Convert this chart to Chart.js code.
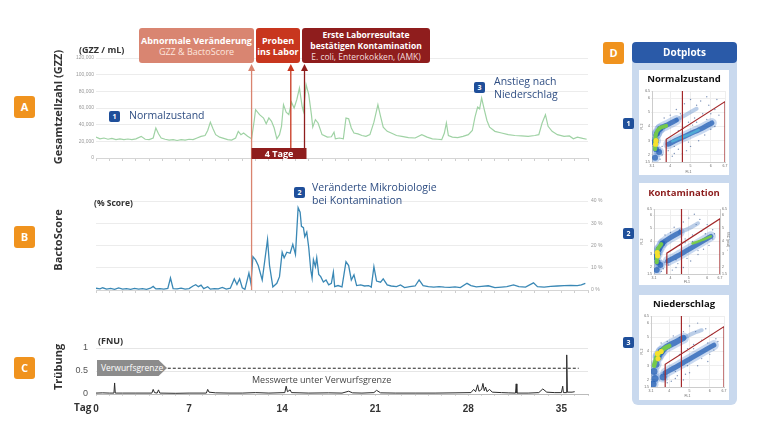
<!DOCTYPE html>
<html>
<head>
<meta charset="utf-8">
<script src="https://cdn.jsdelivr.net/npm/chart.js@4.4.1/dist/chart.umd.min.js"></script>
<style>
  body { margin: 0; width: 760px; height: 440px; position: relative; overflow: hidden; background: #fff; font-family: 'Open Sans', 'DejaVu Sans', sans-serif; }
  canvas { position: absolute; }
  .abs { position: absolute; white-space: nowrap; }
  .badge { position: absolute; background: #f0931e; color: #fff; font-weight: bold; font-size: 11px; width: 21px; height: 22px; line-height: 22px; text-align: center; border-radius: 3px; }
  .num { position: absolute; background: #1f4f9a; color: #fff; font-weight: bold; font-size: 7px; width: 11px; height: 11px; line-height: 11px; text-align: center; border-radius: 2px; }
  .note { position: absolute; color: #2e4d82; font-size: 10.5px; line-height: 13px; white-space: nowrap; }
  .vlabel { position: absolute; transform: translate(-50%, -50%) rotate(-90deg); font-weight: bold; font-size: 11px; color: #333; white-space: nowrap; }
  .box { position: absolute; color: #fff; text-align: center; border-radius: 3px; font-size: 9px; line-height: 11px; display: flex; flex-direction: column; justify-content: center; }
  .unit { position: absolute; font-weight: bold; font-size: 9px; color: #333; white-space: nowrap; }
  .card { position: absolute; background: #fff; left: 639px; width: 90px; }
  .ctitle { position: absolute; left: 639px; width: 90px; text-align: center; font-weight: bold; font-size: 9.5px; }
</style>
</head>
<body>
<canvas id="chartA" width="620" height="140" style="left:0;top:40px"></canvas>
<canvas id="chartB" width="620" height="120" style="left:0;top:180px"></canvas>
<canvas id="chartC" width="620" height="95" style="left:0;top:330px"></canvas>

<!-- left labels -->
<div class="badge" style="left:14px;top:96px">A</div>
<div class="badge" style="left:14px;top:226px">B</div>
<div class="badge" style="left:14px;top:357px">C</div>
<div class="vlabel" style="left:57px;top:107px">Gesamtzellzahl (GZZ)</div>
<div class="vlabel" style="left:57px;top:240px">BactoScore</div>
<div class="vlabel" style="left:57px;top:367px">Trübung</div>

<div class="unit" style="left:79px;top:43px">(GZZ / mL)</div>
<div class="unit" style="left:94px;top:197px;font-size:8.5px">(% Score)</div>
<div class="unit" style="left:98px;top:334px">(FNU)</div>
<div class="unit" style="left:74px;top:400px;font-size:10px">Tag</div>

<!-- top boxes -->
<div class="box" style="left:139px;top:28px;width:115px;height:35px;background:#d98571"><b>Abnormale Veränderung</b><span style="color:#fde6df">GZZ &amp; BactoScore</span></div>
<div class="box" style="left:256px;top:28px;width:44px;height:35px;background:#c8361e"><b>Proben<br>ins Labor</b></div>
<div class="box" style="left:302px;top:28px;width:128px;height:35px;background:#8f1d1d;font-size:8.5px;line-height:11px"><b>Erste Laborresultate<br>bestätigen Kontamination</b><span style="color:#f3dede">E. coli, Enterokokken, (AMK)</span></div>

<!-- notes -->
<div class="num" style="left:109px;top:111px">1</div>
<div class="note" style="left:129px;top:109px">Normalzustand</div>
<div class="num" style="left:474px;top:82px">3</div>
<div class="note" style="left:494px;top:75px">Anstieg nach<br>Niederschlag</div>
<div class="num" style="left:294px;top:187px">2</div>
<div class="note" style="left:312px;top:181px">Veränderte Mikrobiologie<br>bei Kontamination</div>

<!-- turbidity notes -->
<div class="abs" style="left:97px;top:360px;width:70px;height:16px;background:#8c8c8c;clip-path:polygon(0 0,88% 0,100% 50%,88% 100%,0 100%);color:#fff;font-size:8.5px;line-height:16px;padding-left:4px;box-sizing:border-box">Verwurfsgrenze</div>
<div class="abs" style="left:252px;top:373px;font-size:9px;color:#444">Messwerte unter Verwurfsgrenze</div>

<!-- D panel -->
<div class="badge" style="left:603px;top:42px">D</div>
<div class="abs" style="left:632px;top:55px;width:105px;height:350px;background:#c9d9ee;border-radius:6px"></div>
<div class="abs" style="left:632px;top:42px;width:105px;height:21px;background:#2a5aa8;border-radius:4px;color:#fff;font-weight:bold;font-size:10px;line-height:21px;text-align:center">Dotplots</div>
<div class="card" style="top:70px;height:105px"></div>
<div class="card" style="top:183px;height:102px"></div>
<div class="card" style="top:295px;height:105px"></div>
<div class="ctitle" style="top:72px;color:#111">Normalzustand</div>
<div class="ctitle" style="top:186px;color:#8b1a1a">Kontamination</div>
<div class="ctitle" style="top:297px;color:#111">Niederschlag</div>
<div class="num" style="left:623px;top:118px">1</div>
<div class="num" style="left:623px;top:228px">2</div>
<div class="num" style="left:623px;top:337px">3</div>
<canvas id="dot1" width="90" height="88" style="left:640px;top:86px"></canvas>
<canvas id="dot2" width="90" height="81" style="left:640px;top:203px"></canvas>
<canvas id="dot3" width="90" height="88" style="left:640px;top:310px"></canvas>

<script>
// A: Gesamtzellzahl (days, cells per mL)
const gzzDays = [0, 0.3, 0.6, 0.9, 1.2, 1.5, 1.8, 2.1, 2.4, 2.7, 3.0, 3.4, 3.7, 4.0, 4.3, 4.5, 4.7, 4.9, 5.2, 5.5,
  5.8, 6.1, 6.4, 6.7, 7.0, 7.3, 7.6, 7.9, 8.2, 8.4, 8.6, 8.8, 9.0, 9.3, 9.6, 9.9, 10.2, 10.5, 10.7, 10.9,
  11.1, 11.4, 11.7, 11.9, 12.0, 12.3, 12.6, 12.8, 13.0, 13.2, 13.4, 13.6, 13.8, 13.95, 14.1, 14.3, 14.5, 14.7, 14.9, 15.1,
  15.3, 15.5, 15.6, 15.8, 16.0, 16.2, 16.3, 16.5, 16.7, 17.0, 17.4, 17.7, 17.9, 18.0, 18.3, 18.6, 18.8, 19.0, 19.2, 19.4,
  19.7, 20.0, 20.3, 20.6, 20.9, 21.2, 21.4, 21.6, 21.9, 22.2, 22.6, 23.0, 23.5, 24.0, 24.5, 24.9, 25.3, 25.7, 26.0, 26.2,
  26.35, 26.5, 26.8, 27.2, 27.6, 28.0, 28.3, 28.5, 28.7, 28.85, 29.0, 29.2, 29.4, 29.6, 30.0, 30.5, 31.0, 31.5, 32.0, 32.5,
  33.0, 33.3, 33.55, 33.8, 34.0, 34.3, 34.7, 35.2, 35.6, 35.9, 36.2, 36.6, 36.9];
const gzzValues = [25000, 23000, 24000, 22500, 23500, 22000, 23000, 22000, 22800, 22000, 23000, 26000, 22500, 22000, 24000, 36000, 29000, 24000, 22500, 21500,
  22000, 21000, 22000, 21500, 22500, 22000, 24000, 26000, 27000, 33000, 43000, 35000, 28000, 25000, 23500, 22000, 21500, 24000, 32000, 28000,
  30000, 26000, 23000, 45000, 58000, 52000, 48000, 41000, 48000, 44000, 36000, 23000, 28000, 38000, 64000, 55000, 52000, 67000, 60000, 70000,
  84000, 62000, 56000, 88000, 76000, 52000, 37000, 46000, 42000, 28000, 25000, 25500, 31000, 23000, 24000, 23000, 48000, 47000, 36000, 30000,
  29000, 27000, 26000, 28000, 43000, 64000, 50000, 37000, 32000, 30000, 27000, 26000, 24500, 24000, 28000, 25000, 23000, 22500, 22000, 30000,
  42000, 27000, 25000, 24500, 26000, 28000, 33000, 49000, 61000, 59000, 72000, 58000, 45000, 37000, 32000, 30000, 28000, 27000, 26500, 26000,
  27000, 28000, 42000, 52000, 38000, 32000, 28000, 26000, 26500, 23000, 25000, 23500, 22500];

// B: BactoScore (days, %)
const scoreDays = [0, 0.3, 0.5, 0.8, 1.1, 1.4, 1.7, 2.0, 2.3, 2.6, 2.9, 3.2, 3.5, 3.8, 4.1, 4.3, 4.5, 4.8, 5.1, 5.4,
  5.6, 5.8, 6.1, 6.4, 6.7, 7.0, 7.3, 7.5, 7.7, 7.9, 8.1, 8.4, 8.6, 8.9, 9.2, 9.5, 9.8, 10.1, 10.4, 10.6,
  10.8, 11.0, 11.2, 11.5, 11.65, 11.8, 12.0, 12.2, 12.5, 12.7, 12.9, 13.05, 13.3, 13.6, 13.8, 14.0, 14.15, 14.35, 14.6, 14.8,
  15.0, 15.2, 15.35, 15.45, 15.6, 15.7, 15.85, 16.0, 16.15, 16.25, 16.35, 16.5, 16.6, 16.75, 16.9, 17.1, 17.3, 17.5, 17.7, 17.85,
  17.95, 18.2, 18.5, 18.8, 19.0, 19.2, 19.4, 19.6, 19.9, 20.2, 20.5, 20.7, 20.9, 21.1, 21.4, 21.6, 21.9, 22.2, 22.6, 22.9,
  23.2, 23.6, 24.0, 24.3, 24.6, 25.0, 25.4, 25.8, 26.2, 26.6, 27.0, 27.4, 27.9, 28.2, 28.6, 29.0, 29.5, 30.0, 30.5, 30.9,
  31.4, 31.8, 32.3, 32.9, 33.2, 33.7, 34.2, 34.7, 35.2, 35.7, 36.2, 36.5, 36.8];
const scoreValues = [0.8, 0.5, 1.0, 0.4, 0.7, 0.3, 0.9, 0.4, 0.6, 0.3, 0.7, 0.4, 0.6, 0.3, 0.8, 1.6, 0.5, 0.6, 0.4, 0.7,
  5.4, 0.6, 0.5, 0.8, 0.4, 0.6, 1.8, 2.4, 1.5, 2.2, 0.6, 1.5, 0.4, 0.6, 0.5, 1.2, 0.4, 0.8, 5.0, 2.5,
  5.0, 1.0, 0.3, 7.6, 3.0, 15.0, 13.5, 11.0, 4.5, 13.6, 22.7, 11.0, 1.4, 3.0, 6.0, 17.0, 14.5, 17.0, 16.5, 20.5,
  16.0, 37.0, 35.0, 28.6, 28.0, 24.0, 26.0, 19.0, 9.0, 5.4, 13.6, 10.5, 14.5, 7.0, 6.0, 3.6, 4.5, 2.3, 3.0, 8.0,
  1.5, 2.0, 1.4, 12.7, 11.0, 4.5, 6.8, 2.0, 2.3, 1.8, 2.0, 1.3, 10.5, 4.0, 3.5, 5.0, 2.3, 1.8, 1.5, 2.3,
  1.1, 1.5, 1.8, 4.5, 2.0, 1.5, 1.3, 1.5, 1.3, 1.2, 1.4, 1.1, 3.0, 2.0, 1.4, 1.6, 1.9, 1.1, 1.3, 1.5,
  2.3, 1.5, 1.3, 3.2, 1.5, 1.3, 1.6, 1.8, 2.0, 2.1, 2.0, 2.3, 3.0];

// C: Trübung (days, FNU)
const turbDays = [0, 0.5, 1.0, 1.35, 1.4, 1.45, 2.0, 3.0, 4.2, 4.3, 4.4, 4.6, 4.7, 4.8, 6.0, 7.0, 8.3, 8.4, 8.5, 9.0,
  10.0, 11.0, 12.0, 13.0, 14.2, 14.3, 14.4, 14.6, 14.7, 16.0, 17.5, 18.5, 19.0, 19.3, 20.0, 20.9, 21.1, 21.4, 22.5, 24.0,
  25.5, 27.0, 28.2, 28.4, 28.55, 28.7, 28.8, 29.0, 29.1, 29.2, 29.3, 29.4, 29.6, 29.8, 30.5, 31.0, 31.55, 31.6, 31.65, 32.5,
  33.3, 33.6, 33.9, 34.5, 35.0, 35.1, 35.15, 35.35, 35.4, 35.45, 35.8, 36.0];
const turbValues = [0.02, 0.025, 0.02, 0.02, 0.24, 0.02, 0.02, 0.02, 0.02, 0.1, 0.03, 0.02, 0.09, 0.02, 0.015, 0.02, 0.02, 0.1, 0.04, 0.025,
  0.02, 0.02, 0.03, 0.02, 0.03, 0.17, 0.05, 0.09, 0.03, 0.02, 0.025, 0.02, 0.06, 0.025, 0.02, 0.03, 0.08, 0.025, 0.02, 0.02,
  0.02, 0.025, 0.03, 0.1, 0.05, 0.2, 0.06, 0.1, 0.23, 0.07, 0.15, 0.05, 0.1, 0.04, 0.03, 0.025, 0.02, 0.22, 0.02, 0.02,
  0.03, 0.11, 0.04, 0.03, 0.03, 0.17, 0.03, 0.03, 0.85, 0.04, 0.04, 0.05];
const discardLimit = 0.56;
const dayTicks = [0, 7, 14, 21, 28, 35];

// event days (abnormal change, samples to lab, first lab results)
const eventDays = [11.7, 14.65, 15.68];

// D: dotplot shapes, [FL1, FL2]
const fl1Ticks = [3.1, 4, 5, 6, 6.7];
const fl2Ticks = [1.5, 2, 3, 4, 5, 6, 6.5];
const gateLine = [[4.6, 1.5], [4.6, 6.5]];
const gatePoly = [[3.8, 1.5], [3.8, 3.1], [6.7, 5.75], [6.7, 1.5]];

const normBlob = [[3.25, 1.8], [3.3, 2.4], [3.3, 3.0], [3.35, 3.5], [3.5, 3.85], [3.2, 2.9], [3.45, 2.2]];
const normHigh = [[3.3, 3.4], [3.5, 3.85], [3.9, 4.15], [4.3, 4.45]];
const normHighTail = [[4.3, 4.45], [4.8, 4.85], [5.3, 5.25]];
const normLow = [[3.9, 2.75], [4.4, 3.1], [5.0, 3.5], [5.6, 3.9], [6.05, 4.25]];
const normLowCore = [[4.1, 2.95], [4.7, 3.3], [5.4, 3.75]];
const normGreen = [[3.25, 2.4], [3.3, 3.5], [3.5, 3.9], [3.8, 4.05]];
const normYellow = [[3.3, 3.0], [3.28, 2.75]];
const normSparse = [[4.7, 5.6], [5.0, 5.9], [5.5, 5.8], [5.9, 5.5], [6.2, 5.2], [5.2, 4.6], [4.9, 4.3], [5.6, 4.9], [6.0, 4.9],
  [4.4, 2.4], [4.6, 2.1], [4.1, 1.9], [5.0, 2.6], [3.6, 2.0], [3.9, 2.3], [5.8, 6.1], [4.3, 5.2], [6.4, 4.8], [3.5, 1.7],
  [4.2, 2.6], [5.4, 3.0], [6.0, 3.8], [4.5, 4.9], [5.3, 5.5], [6.3, 5.9], [4.8, 2.3], [3.7, 4.6], [4.0, 4.8],
  [4.4, 3.7], [5.1, 4.1], [5.8, 4.5], [4.2, 2.1], [4.9, 2.9], [5.7, 3.4], [3.6, 2.6], [4.6, 3.9], [5.3, 4.3], [6.2, 4.0]];

const contBlob = [[3.25, 1.8], [3.3, 2.4], [3.3, 3.0], [3.35, 3.4], [3.55, 3.85], [3.2, 2.8], [3.45, 2.2]];
const contHigh = [[3.35, 3.3], [3.6, 3.9], [4.0, 4.3], [4.5, 4.7]];
const contHighTail = [[4.5, 4.7], [5.0, 5.0], [5.5, 5.4]];
const contLow = [[3.85, 2.5], [4.4, 2.9], [5.0, 3.4], [5.6, 3.9], [6.2, 4.4]];
const contLowGreen = [[5.2, 3.85], [5.7, 4.1], [6.2, 4.4]];
const contGreen = [[3.25, 2.4], [3.3, 3.4], [3.5, 3.8]];
const contYellow = [[3.3, 2.9], [3.28, 3.15]];
const contSparse = [[4.7, 5.5], [5.0, 5.8], [5.3, 6.1], [5.6, 5.7], [6.0, 5.3], [5.2, 4.5], [4.8, 4.2], [5.7, 4.8], [6.3, 4.9],
  [4.4, 2.3], [4.7, 2.0], [4.1, 1.8], [5.1, 2.5], [3.6, 1.9], [3.9, 2.2], [4.2, 5.1], [6.4, 4.6], [3.5, 1.7], [4.3, 2.6],
  [5.5, 3.0], [6.1, 3.7], [4.5, 4.9], [5.4, 5.3], [3.7, 4.5], [4.0, 4.7], [4.9, 2.7], [5.8, 3.4],
  [4.5, 3.7], [5.2, 4.0], [5.9, 4.6], [4.3, 2.0], [5.5, 3.3], [4.8, 3.9], [3.7, 2.4], [6.3, 4.2]];

const rainBlob = [[3.25, 2.6], [3.35, 3.1], [3.45, 3.6], [3.6, 4.0], [3.3, 2.1], [3.2, 1.7], [3.7, 2.2]];
const rainHigh = [[3.45, 3.7], [3.8, 4.25], [4.3, 4.65], [4.7, 4.95]];
const rainHighTail = [[4.7, 4.95], [5.2, 5.3], [5.6, 5.5]];
const rainLow = [[3.8, 2.5], [4.5, 3.05], [5.1, 3.55], [5.7, 4.05], [6.2, 4.45]];
const rainGreen = [[3.25, 3.0], [3.4, 3.65], [3.7, 4.15], [4.0, 4.4]];
const rainYellow = [[3.45, 3.5], [3.42, 3.85], [3.6, 4.0]];
const rainSparse = [[4.7, 5.4], [5.0, 5.8], [5.4, 6.0], [5.8, 5.6], [6.1, 5.2], [5.2, 4.5], [4.9, 4.2], [5.6, 4.8], [6.3, 4.9],
  [4.4, 2.3], [4.7, 2.0], [4.1, 1.9], [5.0, 2.5], [3.9, 1.8], [4.2, 5.1], [6.4, 4.7], [4.3, 2.6], [5.4, 3.0], [6.0, 3.8],
  [4.5, 5.0], [5.3, 5.4], [4.8, 2.4], [5.9, 3.3], [3.6, 4.6],
  [4.5, 3.8], [5.2, 4.2], [5.9, 4.6], [4.3, 2.1], [4.9, 3.0], [5.6, 3.5], [3.9, 4.7], [6.2, 4.1]];

const pts = a => a.map(p => ({ x: p[0], y: p[1] }));
const series = (days, vals) => days.map((d, i) => ({ x: d, y: vals[i] }));

const salmon = '#d9846f', red = '#c8361e', darkRed = '#8f1d1d';

function arrowUp(ctx, x, y, color) {
  ctx.fillStyle = color;
  ctx.beginPath();
  ctx.moveTo(x, y);
  ctx.lineTo(x - 3.5, y + 7);
  ctx.lineTo(x + 3.5, y + 7);
  ctx.closePath();
  ctx.fill();
}

// Chart A: GZZ
new Chart(document.getElementById('chartA'), {
  type: 'line',
  data: {
    datasets: [{
      data: series(gzzDays, gzzValues),
      borderColor: '#9fd2a4',
      borderWidth: 1.2,
      pointRadius: 0
    }]
  },
  options: {
    responsive: false,
    animation: false,
    layout: { padding: { top: 18, right: 32, left: 0, bottom: 0 } },
    plugins: { legend: { display: false }, tooltip: { enabled: false } },
    scales: {
      x: {
        type: 'linear', min: 0, max: 37,
        afterFit: s => { s.height = 22; },
        ticks: { stepSize: 1, autoSkip: false, callback: () => '', font: { size: 4 } },
        grid: { drawOnChartArea: false, tickLength: 3, color: '#cfcfcf' },
        border: { color: '#d5d5d5' }
      },
      y: {
        min: 0, max: 120000,
        afterFit: s => { s.width = 96; },
        ticks: { stepSize: 20000, font: { size: 5 }, color: '#999', padding: 2,
          callback: v => v.toLocaleString('en-US') },
        grid: { color: '#ececec', drawTicks: false },
        border: { display: false }
      }
    }
  },
  plugins: [{
    id: 'events',
    afterDatasetsDraw(chart) {
      const { ctx, scales: { x } } = chart;
      const top = 24, boxTop = 108, boxBottom = 119;
      const [x1, x2, x3] = eventDays.map(d => x.getPixelForValue(d));
      ctx.save();
      ctx.lineWidth = 1.3;
      [[x1, salmon, chart.height], [x2, red, boxTop], [x3, darkRed, boxTop]].forEach(([px, c, end]) => {
        ctx.strokeStyle = c;
        ctx.beginPath();
        ctx.moveTo(px, top + 5);
        ctx.lineTo(px, end);
        ctx.stroke();
        arrowUp(ctx, px, top, c);
      });
      ctx.fillStyle = darkRed;
      ctx.fillRect(x1, boxTop, x3 - x1 + 2, boxBottom - boxTop);
      ctx.fillStyle = '#fff';
      ctx.font = "bold 9px 'Open Sans'";
      ctx.textAlign = 'center';
      ctx.textBaseline = 'middle';
      ctx.fillText('4 Tage', (x1 + x3) / 2 + 1, (boxTop + boxBottom) / 2 + 0.5);
      ctx.restore();
    }
  }]
});

// Chart B: BactoScore
new Chart(document.getElementById('chartB'), {
  type: 'line',
  data: {
    datasets: [{
      data: series(scoreDays, scoreValues),
      borderColor: '#3a88b5',
      borderWidth: 1.3,
      pointRadius: 0
    }]
  },
  options: {
    responsive: false,
    animation: false,
    layout: { padding: { top: 21, right: 12, left: 96, bottom: 0 } },
    plugins: { legend: { display: false }, tooltip: { enabled: false } },
    scales: {
      x: {
        type: 'linear', min: 0, max: 37,
        afterFit: s => { s.height = 10; },
        ticks: { stepSize: 1, autoSkip: false, callback: () => '', font: { size: 4 } },
        grid: { drawOnChartArea: false, tickLength: 3, color: '#cfcfcf' },
        border: { color: '#d5d5d5' }
      },
      y: {
        position: 'right',
        min: 0, max: 40,
        afterFit: s => { s.width = 20; },
        ticks: { stepSize: 10, font: { size: 5 }, color: '#999', padding: 3, callback: v => v + ' %' },
        grid: { color: '#ececec', drawTicks: false },
        border: { display: false }
      }
    }
  },
  plugins: [{
    id: 'eventLine',
    afterDatasetsDraw(chart) {
      const { ctx, chartArea, scales: { x } } = chart;
      const px = x.getPixelForValue(eventDays[0]);
      ctx.save();
      ctx.strokeStyle = salmon;
      ctx.lineWidth = 1.3;
      ctx.beginPath();
      ctx.moveTo(px, 0);
      ctx.lineTo(px, chartArea.bottom);
      ctx.stroke();
      ctx.restore();
    }
  }]
});

// Chart C: Trübung
new Chart(document.getElementById('chartC'), {
  type: 'line',
  data: {
    datasets: [{
      data: series(turbDays, turbValues),
      borderColor: '#2b2b2b',
      borderWidth: 1,
      pointRadius: 0
    }, {
      data: [{ x: 5.4, y: discardLimit }, { x: 36.3, y: discardLimit }],
      borderColor: '#222',
      borderWidth: 1,
      borderDash: [3, 2],
      pointRadius: 0
    }]
  },
  options: {
    responsive: false,
    animation: false,
    layout: { padding: { top: 18, right: 32, left: 0, bottom: 0 } },
    plugins: { legend: { display: false }, tooltip: { enabled: false } },
    scales: {
      x: {
        type: 'linear', min: 0, max: 37,
        afterFit: s => { s.height = 31; },
        ticks: { stepSize: 1, autoSkip: false, maxRotation: 0, padding: 7,
          callback: v => dayTicks.includes(v) ? String(v) : '',
          font: { size: 10, weight: 'bold' }, color: '#333' },
        grid: { drawOnChartArea: false, tickLength: 2, color: '#d5d5d5' },
        border: { color: '#bbb' }
      },
      y: {
        min: 0, max: 1,
        afterFit: s => { s.width = 96; },
        ticks: { stepSize: 0.5, font: { size: 9 }, color: '#555', padding: 8,
          callback: v => String(v) },
        grid: { color: '#e6e6e6', drawTicks: false },
        border: { display: false }
      }
    }
  }
});

// D: dotplots
function band(a, color, w) {
  return { data: pts(a), showLine: true, borderColor: color, borderWidth: w, pointRadius: 0,
    borderCapStyle: 'round', borderJoinStyle: 'round', tension: 0.3 };
}
function dots(a, color, r) {
  return { data: pts(a), backgroundColor: color, borderWidth: 0, pointRadius: r };
}
function gates() {
  return [
    { data: pts(gateLine), showLine: true, borderColor: '#a3282a', borderWidth: 1.2, pointRadius: 0 },
    { data: pts(gatePoly), showLine: true, borderColor: '#a3282a', borderWidth: 1.2, pointRadius: 0 }
  ];
}
function dotplot(id, datasets, pad, yWidth, rightAxis) {
  const tickFont = { size: 3.5 };
  const scales = {
    x: {
      min: 3.1, max: 6.7,
      afterBuildTicks: s => { s.ticks = fl1Ticks.map(v => ({ value: v })); },
      afterFit: s => { s.height = pad.bottomAxis; },
      ticks: { font: tickFont, color: '#666', padding: 1, maxRotation: 0 },
      grid: { color: '#eeeeee', tickLength: 1 },
      border: { color: '#ccc' },
      title: { display: true, text: 'FL1', font: { size: 3.5 }, color: '#666', padding: 0 }
    },
    y: {
      min: 1.5, max: 6.5,
      afterBuildTicks: s => { s.ticks = fl2Ticks.map(v => ({ value: v })); },
      afterFit: s => { s.width = yWidth; },
      ticks: { font: tickFont, color: '#666', padding: 1 },
      grid: { color: '#eeeeee', tickLength: 1 },
      border: { color: '#ccc' },
      title: { display: true, text: 'FL2', font: { size: 3.5 }, color: '#666', padding: 0 }
    }
  };
  if (rightAxis) {
    scales.y2 = {
      position: 'right', min: 1.5, max: 6.5,
      afterBuildTicks: s => { s.ticks = fl2Ticks.map(v => ({ value: v })); },
      afterFit: s => { s.width = 10; },
      ticks: { font: tickFont, color: '#666', padding: 1 },
      grid: { drawOnChartArea: false, tickLength: 1 },
      border: { color: '#ccc' },
      title: { display: true, text: 'SSC (peak) →', font: { size: 3 }, color: '#666', padding: 0 }
    };
  }
  // Chart.js paints dataset 0 last, so reverse: first listed ends up at the bottom
  const all = datasets.concat(gates()).reverse();
  new Chart(document.getElementById(id), {
    type: 'scatter',
    data: { datasets: all },
    options: {
      responsive: false,
      animation: false,
      layout: { padding: { top: pad.top, right: pad.right, left: 0, bottom: 0 } },
      plugins: { legend: { display: false }, tooltip: { enabled: false } },
      scales
    }
  });
}

const halo = 'rgba(60,120,200,0.28)', blue = 'rgba(35,95,180,0.75)', blueFaint = 'rgba(60,115,190,0.35)';
const cyan = 'rgba(80,175,215,0.9)', green = 'rgba(120,205,70,0.95)', yellow = '#f5e02e';
const speck = 'rgba(45,80,140,0.6)';

dotplot('dot1', [
  dots(normBlob, halo, 5), band(normHighTail, blueFaint, 4), band(normHigh, halo, 10), band(normLow, halo, 10),
  dots(normBlob, blue, 3), band(normHigh, blue, 5), band(normLow, blue, 5),
  band(normLowCore, cyan, 2.5), band(normGreen, green, 4), dots(normYellow, yellow, 2.6),
  dots(normSparse, speck, 0.7)
], { top: 5, right: 3, bottomAxis: 12 }, 12, false);

dotplot('dot2', [
  dots(contBlob, halo, 5), band(contHighTail, blueFaint, 4), band(contHigh, halo, 10), band(contLow, halo, 10),
  dots(contBlob, blue, 3), band(contHigh, blue, 5), band(contLow, blue, 5),
  band(contLowGreen, green, 2.5), band(contGreen, green, 4), dots(contYellow, yellow, 2.6),
  dots(contSparse, speck, 0.7)
], { top: 6, right: 0, bottomAxis: 10 }, 14, true);

dotplot('dot3', [
  dots(rainBlob, halo, 5.5), band(rainHighTail, blueFaint, 4), band(rainHigh, halo, 11), band(rainLow, halo, 10),
  dots(rainBlob, blue, 3.5), band(rainHigh, blue, 6), band(rainLow, blue, 5),
  band(rainGreen, green, 4.5), dots(rainYellow, yellow, 2.6),
  dots(rainSparse, speck, 0.7)
], { top: 6, right: 6, bottomAxis: 11 }, 11, false);
</script>
</body>
</html>
